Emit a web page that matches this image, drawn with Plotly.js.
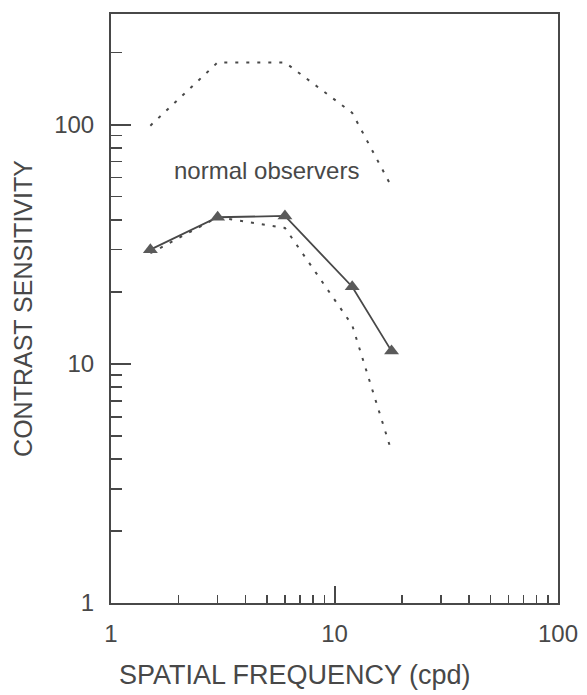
<!DOCTYPE html>
<html>
<head>
<meta charset="utf-8">
<script src="https://cdn.plot.ly/plotly-3.0.1.min.js"></script>
<style>
html,body{margin:0;padding:0;background:#fff;}
#chart{width:587px;height:695px;}
</style>
</head>
<body>
<div id="chart"></div>
<script>
// Spatial frequency (cpd)
const freqPatient = [1.5, 3, 6, 12, 18];
const sensPatient = [30, 41, 41.5, 21, 11.3];

const freqPatientDashed = [1.5, 3, 6, 12, 18];
const sensPatientDashed = [29, 41, 37, 14.5, 4.3];

const freqNormal = [1.5, 3, 6, 12, 18];
const sensNormal = [99, 182, 182, 112, 55];

const xTickVals = [1, 10, 100];
const xTickText = ['1', '10', '100'];
const yTickVals = [1, 10, 100];
const yTickText = ['1', '10', '100'];
const minorVals = [2,3,4,5,6,7,8,9,20,30,40,50,60,70,80,90,200];

const ink = '#484848';
const font = 'Liberation Sans, Arial, Helvetica, sans-serif';

const traces = [
  {
    x: freqNormal, y: sensNormal, mode: 'lines', type: 'scatter',
    line: {color: ink, width: 2, dash: '3px,8px'}, hoverinfo: 'skip'
  },
  {
    x: freqPatientDashed, y: sensPatientDashed, mode: 'lines', type: 'scatter',
    line: {color: ink, width: 2, dash: '3px,8px'}, hoverinfo: 'skip'
  },
  {
    x: freqPatient, y: sensPatient, mode: 'lines+markers', type: 'scatter',
    line: {color: ink, width: 1.8},
    marker: {symbol: 'triangle-up', size: 13, color: '#5a5a5a'}
  }
];

const plotL = 111, plotR = 29, plotT = 14, plotB = 92;
const plotW = 587 - plotL - plotR, plotH = 695 - plotT - plotB;

const layout = {
  width: 587, height: 695,
  margin: {l: plotL, r: plotR, t: plotT, b: plotB},
  paper_bgcolor: '#ffffff', plot_bgcolor: '#ffffff',
  showlegend: false,
  font: {family: font, color: ink, size: 24},
  xaxis: {
    type: 'log', range: [0, 2],
    tickvals: xTickVals, ticktext: xTickText,
    ticks: 'inside', ticklen: 17, tickwidth: 2, tickcolor: ink,
    minor: {tickvals: minorVals, ticks: 'inside', ticklen: 8, tickwidth: 1.5, tickcolor: ink},
    showline: true, mirror: true, linecolor: ink, linewidth: 2,
    showgrid: false, zeroline: false,
    ticklabelstandoff: 8,
    tickfont: {size: 24, color: ink, family: font}
  },
  yaxis: {
    type: 'log', range: [0, Math.log10(290)],
    tickvals: yTickVals, ticktext: yTickText,
    ticks: 'inside', ticklen: 20, tickwidth: 2, tickcolor: ink,
    minor: {tickvals: minorVals, ticks: 'inside', ticklen: 11, tickwidth: 1.5, tickcolor: ink},
    showline: true, mirror: true, linecolor: ink, linewidth: 2,
    showgrid: false, zeroline: false,
    ticklabelstandoff: 10,
    tickfont: {size: 24, color: ink, family: font},
    title: {text: 'CONTRAST SENSITIVITY', font: {size: 25, color: ink, family: font}, standoff: 14}
  },
  annotations: [
    {
      x: Math.log10(4.95), y: Math.log10(64), xref: 'x', yref: 'y',
      text: 'normal observers', showarrow: false,
      font: {size: 24, color: ink, family: font}
    },
    {
      x: (295 - plotL) / plotW, xref: 'paper',
      y: (695 - plotB - 675) / plotH, yref: 'paper',
      xanchor: 'center', yanchor: 'middle',
      text: 'SPATIAL FREQUENCY (cpd)', showarrow: false,
      font: {size: 27, color: ink, family: font}
    }
  ]
};

Plotly.newPlot('chart', traces, layout, {displayModeBar: false, staticPlot: true});
</script>
</body>
</html>
